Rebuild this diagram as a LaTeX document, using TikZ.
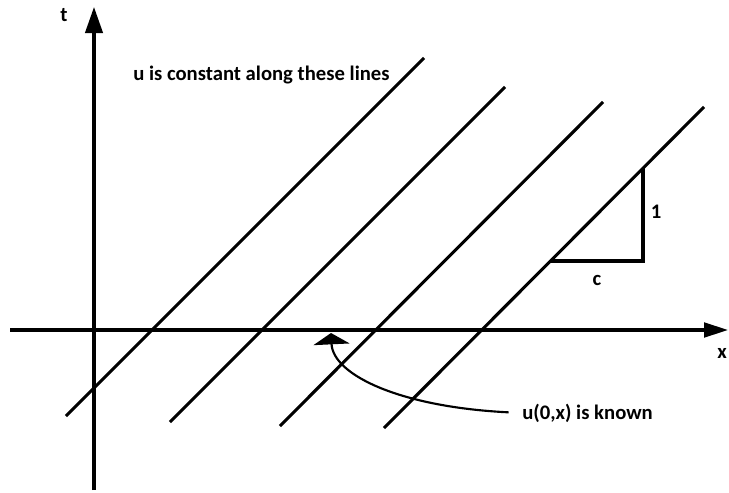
\documentclass[tikz,border=0pt]{standalone}
\usepackage{fontspec}
\setmainfont{Carlito}
\usetikzlibrary{arrows.meta}

\begin{document}
\begin{tikzpicture}[
  x=0.75pt, y=-0.75pt,
  axis/.style={line width=2.3pt},
  charline/.style={line width=2.3pt},
  lbl/.style={font=\bfseries\fontsize{15.5}{18}\selectfont, inner sep=0pt},
  tarrow/.style={-{Triangle[length=19.5pt, width=13pt]}},
  xarrow/.style={-{Triangle[length=18pt, width=11pt]}},
  known/.style={line width=1.6pt, shorten <=10pt, -{Triangle[length=8.5pt, width=27pt]}}
]
\useasboundingbox (0,0) rectangle (729,493);

% axes
\coordinate (t0) at (94,490);
\coordinate (t1) at (94,7);
\coordinate (x0) at (10,330);
\coordinate (x1) at (728,330);
\draw[axis, tarrow] (t0) -- (t1);
\draw[axis, xarrow] (x0) -- (x1);
\node[lbl] (tlab) at (64,15) {t};
\node[lbl] (xlab) at (722,353) {x};

% characteristic lines
\foreach \a/\b/\c/\d [count=\i] in {66/416/424/58, 170/422/505/87, 280/426/603/102, 384/428/704/107}
  \draw[charline] (\a,\b) coordinate (lo\i) -- (\c,\d) coordinate (hi\i);

% slope triangle
\coordinate (s1) at (551,261);
\coordinate (s2) at (643,261);
\coordinate (s3) at (643,168);
\draw[charline] (s1) -- (s2) -- (s3);
\node[lbl] (one) at (656,212) {1};
\node[lbl] (c) at (597,280) {c};

% labels
\node[lbl, anchor=west] (const) at (133,75) {u is constant along these lines};
\node[lbl, anchor=west] (init) at (522,413) {u(0,x) is known};
\coordinate (tip) at (331,333);
\draw[known] (init.west) .. controls (400,407) and (333,375) .. (tip);
\end{tikzpicture}
\end{document}
